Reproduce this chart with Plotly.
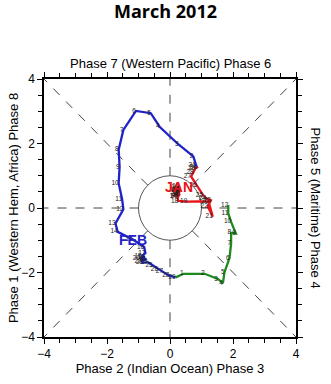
import numpy as np
import plotly.graph_objects as go

# ---- data (RMM1, RMM2 per day) ----
jan_rmm1 = [0.10, 0.15, 0.22, 0.18, 0.25, 0.30, 0.28, 0.22, 0.26, 0.30, 0.25, 0.30, 0.27, 0.22, 0.30,
            0.25, 0.24, 0.26, 0.55, 1.22, 1.36, 1.20, 1.30, 1.15, 1.05, 0.85, 0.67, 0.75, 0.80, 0.86, 0.82]
jan_rmm2 = [0.35, 0.42, 0.48, 0.55, 0.60, 0.52, 0.45, 0.40, 0.35, 0.42, 0.50, 0.58, 0.64, 0.58, 0.66,
            0.55, 0.35, 0.22, 0.20, 0.21, -0.27, 0.05, 0.24, 0.30, 0.40, 0.70, 0.98, 1.12, 1.22, 1.26, 1.32]

feb_rmm1 = [0.84, 0.74, 0.27, -0.33, -0.61, -1.08, -1.48, -1.63, -1.60, -1.63, -1.52, -1.48, -1.73, -1.66,
            -1.18, -0.82, -0.78, -0.90, -0.80, -0.95, -0.75, -0.90, -0.85, -0.70, -0.55, -0.38, -0.22, -0.02, 0.18]
feb_rmm2 = [1.29, 1.60, 1.97, 2.52, 2.94, 3.01, 2.42, 1.81, 1.27, 0.77, 0.27, -0.04, -0.48, -0.74,
            -0.98, -1.21, -1.40, -1.50, -1.52, -1.56, -1.58, -1.65, -1.70, -1.68, -1.78, -1.90, -1.98, -2.10, -2.15]

mar_rmm1 = [0.43, 1.10, 1.52, 1.68, 1.73, 1.89, 1.94, 1.94, 2.09, 1.94, 1.85, 1.85]
mar_rmm2 = [-2.04, -2.04, -2.20, -2.33, -1.99, -1.55, -1.10, -0.77, -0.79, -0.43, -0.17, 0.09]

months = [
    ("JAN", jan_rmm1, jan_rmm2, "#e8141a"),
    ("FEB", feb_rmm1, feb_rmm2, "#1f22c8"),
    ("MAR", mar_rmm1, mar_rmm2, "#1d8a1d"),
]
LABEL_DAY = 15
AX = 4
R = 1

fig = go.Figure()

# reference lines
dash = dict(color="#444444", width=1, dash="dash")
d = R / np.sqrt(2)
for sx, sy in [(1, 1), (1, -1), (-1, 1), (-1, -1)]:
    fig.add_shape(type="line", x0=sx * d, y0=sy * d, x1=sx * AX, y1=sy * AX, line=dash, layer="below")
for sx, sy in [(1, 0), (-1, 0), (0, 1), (0, -1)]:
    fig.add_shape(type="line", x0=sx * R, y0=sy * R, x1=sx * AX, y1=sy * AX, line=dash, layer="below")
fig.add_shape(type="circle", x0=-R, y0=-R, x1=R, y1=R, line=dict(color="#555555", width=1), layer="below")

prev = None
for name, xs, ys, col in months:
    lx = list(xs)
    ly = list(ys)
    if prev is not None:
        lx = [prev[0]] + lx
        ly = [prev[1]] + ly
    fig.add_trace(go.Scatter(x=lx, y=ly, mode="lines", line=dict(color=col, width=2.3), showlegend=False,
                             hoverinfo="skip"))
    fig.add_trace(go.Scatter(x=xs, y=ys, mode="text", text=[str(i + 1) for i in range(len(xs))],
                             textposition="middle left",
                             textfont=dict(size=6.5, color="#222222", family="Liberation Sans"),
                             showlegend=False, hoverinfo="skip"))
    if len(xs) >= LABEL_DAY:
        fig.add_annotation(x=xs[LABEL_DAY - 1], y=ys[LABEL_DAY - 1], text="<b>%s</b>" % name,
                           showarrow=False, font=dict(size=14, color=col, family="Liberation Sans"))
    prev = (xs[-1], ys[-1])

axis_common = dict(
    range=[-AX, AX], dtick=2, ticks="outside", ticklen=5, tickwidth=1, tickcolor="black",
    showline=True, linecolor="black", linewidth=1.5, mirror="ticks",
    showgrid=False, zeroline=False,
    minor=dict(dtick=0.5, ticks="outside", ticklen=4, tickcolor="black", showgrid=False),
    tickfont=dict(size=12, color="black", family="Liberation Sans"),
)

fig.update_layout(
    width=331, height=384,
    margin=dict(l=40, r=35, t=79, b=47),
    plot_bgcolor="white", paper_bgcolor="white",
    title=dict(text="<b>March 2012</b>", x=0.5, xanchor="center", y=0.985, yanchor="top",
               font=dict(size=18, color="black", family="Open Sans")),
    xaxis=dict(**axis_common, title=dict(text="Phase 2 (Indian Ocean) Phase 3", standoff=2,
                                         font=dict(size=13, color="black", family="Liberation Sans"))),
    yaxis=dict(**axis_common, title=dict(text="Phase 1 (Western Hem, Africa) Phase 8", standoff=0,
                                         font=dict(size=13, color="black", family="Liberation Sans"))),
)

fig.add_annotation(x=0.5, y=1.0, xref="paper", yref="paper", yshift=6, yanchor="bottom",
                   text="Phase 7 (Western Pacific) Phase 6", showarrow=False,
                   font=dict(size=13, color="black", family="Liberation Sans"))
fig.add_annotation(x=1.0, y=0.5, xref="paper", yref="paper", xshift=10, xanchor="left",
                   text="Phase 5 (Maritime) Phase 4", textangle=90, showarrow=False,
                   font=dict(size=13, color="black", family="Liberation Sans"))

fig.write_html("out.html")
